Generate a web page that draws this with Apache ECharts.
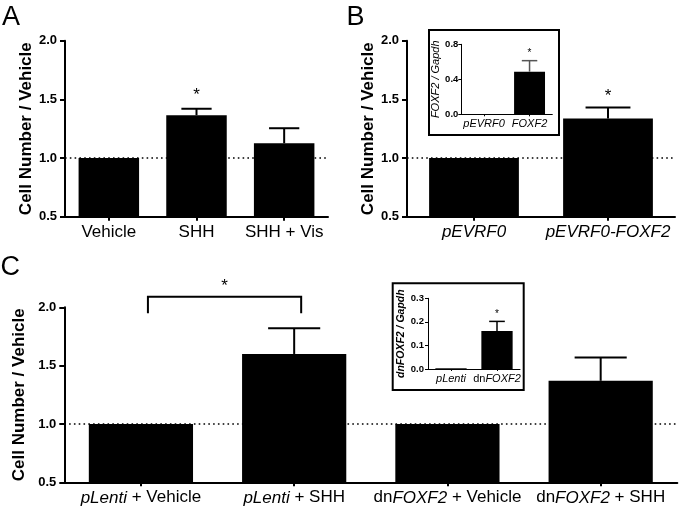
<!DOCTYPE html>
<html>
<head>
<meta charset="utf-8">
<script src="https://cdn.jsdelivr.net/npm/echarts@6/dist/echarts.min.js"></script>
<style>html,body{margin:0;padding:0;background:#fff}#c{width:684px;height:508px}</style>
</head>
<body>
<div id="c"></div>
<script>
// ---- Data ----
const catsA = ['Vehicle', 'SHH', 'SHH + Vis'];
const meanA = [1.0, 1.365, 1.126];
const semA  = [0, 0.055, 0.128];
const sigA  = ['', '*', ''];

const catsB = ['pEVRF0', 'pEVRF0-FOXF2'];
const meanB = [1.0, 1.337];
const semB  = [0, 0.094];
const sigB  = ['', '*'];

const catsC = ['{i|pLenti} + Vehicle', '{i|pLenti} + SHH', 'dn{i|FOXF2} + Vehicle', 'dn{i|FOXF2} + SHH'];
const meanC = [1.0, 1.60, 1.0, 1.37];
const semC  = [0, 0.22, 0, 0.20];
const bracketC = [0, 1];        // compared categories
const bracketLevelC = [2.09, 1.95]; // bracket top, leg end
const bracketSigC = '*';

const catsIB = ['pEVRF0', 'FOXF2'];
const meanIB = [0, 0.487];
const semIB  = [0, 0.126];
const sigIB  = ['', '*'];

const catsIC = ['{i|pLenti}', 'dn{i|FOXF2}'];
const meanIC = [0.003, 0.161];
const semIC  = [0, 0.041];
const sigIC  = ['', '*'];

const mainTicks = [0.5, 2.0, 0.5];  // min, max, interval
const ibTicks = [0, 0.8, 0.4];
const icTicks = [0, 0.3, 0.1];

// ---- Styling ----
const FONT = 'Arial, "Liberation Sans", Helvetica, sans-serif';
const BLACK = '#000';

function yAxisDef(gi, ticks, name, o) {
  return {
    type: 'value', gridIndex: gi, min: ticks[0], max: ticks[1], interval: ticks[2],
    name: name, nameLocation: 'middle', nameGap: o.nameGap,
    nameTextStyle: { fontSize: o.nameSize, fontWeight: o.nameWeight, fontStyle: o.nameStyle || 'normal', color: BLACK, fontFamily: FONT },
    axisLine: { show: true, lineStyle: { color: BLACK, width: o.lw } },
    axisTick: { show: true, length: o.tickLen, lineStyle: { color: BLACK, width: o.lw } },
    axisLabel: { fontSize: o.labelSize, fontWeight: 'bold', color: BLACK, margin: o.labelMargin, fontFamily: FONT,
      formatter: v => v.toFixed(1) },
    splitLine: { show: false }
  };
}
function xAxisDef(gi, cats, o) {
  return {
    type: 'category', gridIndex: gi, data: cats,
    axisLine: { show: true, lineStyle: { color: BLACK, width: o.lw } },
    axisTick: { show: true, alignWithLabel: true, length: o.tickLen, lineStyle: { color: BLACK, width: o.lw } },
    axisLabel: { interval: 0, fontSize: o.labelSize, color: BLACK, margin: o.labelMargin, fontFamily: FONT,
      fontStyle: o.italic ? 'italic' : 'normal',
      rich: { i: { fontStyle: 'italic', fontSize: o.labelSize, color: BLACK, fontFamily: FONT } } }
  };
}

function barSeries(gi, data, width, dotted) {
  const s = {
    type: 'bar', xAxisIndex: gi, yAxisIndex: gi, data: data, barWidth: width,
    itemStyle: { color: BLACK }, silent: true, animation: false
  };
  if (dotted) {
    s.markLine = {
      silent: true, symbol: ['none', 'none'], label: { show: false },
      lineStyle: { type: [1.6, 3.2], color: BLACK, width: 1.6 },
      data: [{ yAxis: 1 }], animation: false
    };
  }
  return s;
}

function errSeries(gi, means, sems, sigs, o) {
  return {
    type: 'custom', xAxisIndex: gi, yAxisIndex: gi, silent: true, animation: false, clip: false, z: 5,
    data: means.map((m, i) => [i, m, m + sems[i]]),
    renderItem: function (params, api) {
      const i = api.value(0), m = api.value(1), t = api.value(2);
      const p0 = api.coord([i, m]), p1 = api.coord([i, t]);
      const bw = api.size([1, 0])[0] * o.barFrac;
      const hc = bw / 4;
      const ch = [];
      const ls = { stroke: o.color, lineWidth: o.lw };
      if (t > m) {
        ch.push({ type: 'line', shape: { x1: p0[0], y1: p0[1], x2: p1[0], y2: p1[1] }, style: ls });
        ch.push({ type: 'line', shape: { x1: p1[0] - hc, y1: p1[1], x2: p1[0] + hc, y2: p1[1] }, style: ls });
      }
      const sig = sigs[params.dataIndex];
      if (sig) {
        ch.push({ type: 'text', x: p1[0], y: p1[1] - o.starGap,
          style: { text: sig, fontSize: o.starSize, fontFamily: FONT, fill: BLACK, align: 'center', verticalAlign: 'middle' } });
      }
      return { type: 'group', children: ch };
    }
  };
}

function bracketSeries(gi, pair, level, sig) {
  return {
    type: 'custom', xAxisIndex: gi, yAxisIndex: gi, silent: true, animation: false, clip: false, z: 5,
    data: [[pair[0], pair[1], level[0], level[1]]],
    renderItem: function (params, api) {
      const off = 7;
      const a = api.coord([api.value(0), api.value(2)]);
      const b = api.coord([api.value(1), api.value(2)]);
      const la = api.coord([api.value(0), api.value(3)]);
      const ls = { stroke: BLACK, lineWidth: 2, fill: 'none' };
      return { type: 'group', children: [
        { type: 'polyline', shape: { points: [[a[0] + off, la[1]], [a[0] + off, a[1]], [b[0] + off, b[1]], [b[0] + off, la[1]]] }, style: ls },
        { type: 'text', x: (a[0] + b[0]) / 2 + off, y: a[1] - 10,
          style: { text: sig, fontSize: 17, fontFamily: FONT, fill: BLACK, align: 'center', verticalAlign: 'middle' } }
      ] };
    }
  };
}

const mainY = { nameGap: 29, nameSize: 17, nameWeight: 'bold', lw: 2, tickLen: 5, labelSize: 13, labelMargin: 8 };
const mainX = { lw: 2, tickLen: 4, labelSize: 17, labelMargin: 7 };
const insetYB = { nameGap: 17, nameSize: 11, nameWeight: 'normal', nameStyle: 'italic', lw: 1, tickLen: 3, labelSize: 9.5, labelMargin: 3 };
const insetYC = { nameGap: 17, nameSize: 10.5, nameWeight: 'bold', nameStyle: 'italic', lw: 1, tickLen: 3, labelSize: 9.5, labelMargin: 4 };
const insetX = { lw: 1, tickLen: 2, labelSize: 11, labelMargin: 4 };

const chart = echarts.init(document.getElementById('c'), null, { renderer: 'canvas' });
chart.setOption({
  animation: false,
  backgroundColor: '#fff',
  grid: [
    { left: 65, top: 40.7, width: 263, height: 176, containLabel: false, outerBoundsMode: 'none' },
    { left: 407, top: 40.7, width: 268, height: 176, containLabel: false, outerBoundsMode: 'none' },
    { left: 64.3, top: 307.3, width: 613, height: 175, containLabel: false, outerBoundsMode: 'none' },
    { left: 461.3, top: 44.3, width: 91, height: 70, containLabel: false, outerBoundsMode: 'none' },
    { left: 428, top: 298.3, width: 92, height: 70.7, containLabel: false, outerBoundsMode: 'none' }
  ],
  xAxis: [
    xAxisDef(0, catsA, mainX),
    xAxisDef(1, catsB, Object.assign({ italic: true }, mainX)),
    xAxisDef(2, catsC, mainX),
    xAxisDef(3, catsIB, Object.assign({ italic: true }, insetX)),
    xAxisDef(4, catsIC, insetX)
  ],
  yAxis: [
    yAxisDef(0, mainTicks, 'Cell Number / Vehicle', mainY),
    yAxisDef(1, mainTicks, 'Cell Number / Vehicle', mainY),
    yAxisDef(2, mainTicks, 'Cell Number / Vehicle', mainY),
    yAxisDef(3, ibTicks, 'FOXF2 / Gapdh', insetYB),
    yAxisDef(4, icTicks, 'dnFOXF2 / Gapdh', insetYC)
  ],
  series: [
    barSeries(0, meanA, '69%', true),
    barSeries(1, meanB, '67%', true),
    barSeries(2, meanC, '68%', true),
    barSeries(3, meanIB, '68%', false),
    barSeries(4, meanIC, '68%', false),
    errSeries(0, meanA, semA, sigA, { barFrac: 0.69, lw: 2, color: BLACK, starGap: 13, starSize: 17 }),
    errSeries(1, meanB, semB, sigB, { barFrac: 0.67, lw: 2, color: BLACK, starGap: 11, starSize: 17 }),
    errSeries(2, meanC, semC, ['', '', '', ''], { barFrac: 0.68, lw: 2, color: BLACK, starGap: 13, starSize: 17 }),
    errSeries(3, meanIB, semIB, sigIB, { barFrac: 0.68, lw: 1.5, color: '#555', starGap: 7, starSize: 10 }),
    errSeries(4, meanIC, semIC, sigIC, { barFrac: 0.68, lw: 1.5, color: BLACK, starGap: 7, starSize: 10 }),
    bracketSeries(2, bracketC, bracketLevelC, bracketSigC)
  ],
  graphic: [
    { type: 'text', x: 2, y: 4, style: { text: 'A', fontSize: 27, fontFamily: FONT, fill: BLACK, verticalAlign: 'top' } },
    { type: 'text', x: 346.5, y: 4, style: { text: 'B', fontSize: 27, fontFamily: FONT, fill: BLACK, verticalAlign: 'top' } },
    { type: 'text', x: 0.5, y: 254, style: { text: 'C', fontSize: 27, fontFamily: FONT, fill: BLACK, verticalAlign: 'top' } },
    { type: 'rect', shape: { x: 429, y: 30, width: 130, height: 105 }, style: { fill: 'none', stroke: BLACK, lineWidth: 2 } },
    { type: 'rect', shape: { x: 392.7, y: 283.3, width: 131, height: 106.7 }, style: { fill: 'none', stroke: BLACK, lineWidth: 2 } }
  ]
});
</script>
</body>
</html>
